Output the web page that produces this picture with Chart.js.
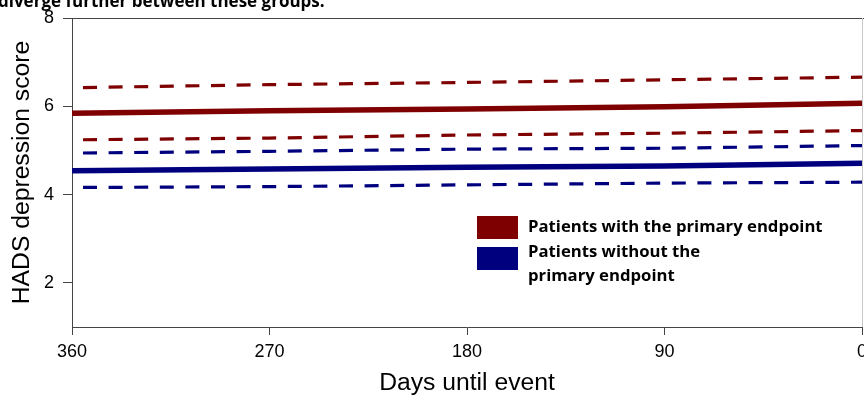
<!DOCTYPE html>
<html>
<head>
<meta charset="utf-8">
<script src="https://cdn.jsdelivr.net/npm/chart.js@4/dist/chart.umd.min.js"></script>
<style>
  html, body { margin: 0; padding: 0; background: #ffffff; }
  #wrap { width: 864px; height: 397px; position: relative; overflow: hidden; }
</style>
</head>
<body>
<div id="wrap"><canvas id="chart" width="864" height="397"></canvas></div>
<script>
// Days before the event, and HADS depression score trajectories (mean with 95% band)
const days = [360, 270, 180, 90, 0];
const withEndpointMean  = [5.84, 5.90, 5.94, 5.99, 6.07];
const withEndpointUpper = [6.42, 6.49, 6.54, 6.60, 6.66];
const withEndpointLower = [5.24, 5.28, 5.35, 5.39, 5.45];
const withoutEndpointMean  = [4.54, 4.58, 4.62, 4.65, 4.71];
const withoutEndpointUpper = [4.94, 4.98, 5.03, 5.05, 5.11];
const withoutEndpointLower = [4.16, 4.18, 4.22, 4.26, 4.28];

const xTicks = [360, 270, 180, 90, 0];
const yTicks = [2, 4, 6, 8];

const legendLines = [
  ['Patients with the primary endpoint'],
  ['Patients without the', 'primary endpoint']
];
const caption = 'diverge further between these groups.';

const RED = '#7f0000';
const BLUE = '#00007f';
const AXIS_FONT = 'Arial, "Liberation Sans", sans-serif';
const NOTE_FONT = '"Open Sans", Lato, sans-serif';

function pts(values) {
  return days.map((d, i) => ({ x: d, y: values[i] }));
}

function solid(label, values, color) {
  return {
    label, data: pts(values), borderColor: color, backgroundColor: color,
    borderWidth: 5.5, pointRadius: 0, tension: 0, borderCapStyle: 'butt'
  };
}
function dashed(label, values, color) {
  return {
    label, data: pts(values), borderColor: color, backgroundColor: color,
    borderWidth: 3.2, pointRadius: 0, tension: 0,
    borderDash: [14, 11.6], borderDashOffset: 14.6, borderCapStyle: 'butt'
  };
}

// Frame lines on top and right of the plotting region, the caption strip and the legend box
const decorations = {
  id: 'decorations',
  beforeDraw(chart) {
    const ctx = chart.ctx;
    ctx.save();
    ctx.fillStyle = '#ffffff';
    ctx.fillRect(0, 0, chart.width, chart.height);
    ctx.restore();
  },
  afterDatasetsDraw(chart) {
    const ctx = chart.ctx;
    const a = chart.chartArea;
    ctx.save();
    // top frame line
    ctx.strokeStyle = '#444444';
    ctx.lineWidth = 1;
    ctx.beginPath();
    ctx.moveTo(a.left, Math.round(a.top) + 0.5);
    ctx.lineTo(chart.width, Math.round(a.top) + 0.5);
    ctx.stroke();
    // light right edge
    ctx.strokeStyle = '#c8c8c8';
    ctx.beginPath();
    ctx.moveTo(Math.round(a.right) + 0.5, a.top);
    ctx.lineTo(Math.round(a.right) + 0.5, a.bottom);
    ctx.stroke();

    // caption line above the plot
    ctx.fillStyle = '#000000';
    ctx.font = 'bold 17px ' + NOTE_FONT;
    ctx.textBaseline = 'alphabetic';
    ctx.textAlign = 'left';
    ctx.fillText(caption, -2, 7);

    // legend
    const colors = [RED, BLUE];
    const swX = 477, swW = 41, swH = 23;
    const swY = [216, 247];
    const baselines = [[232], [257, 281]];
    ctx.font = 'bold 16.7px ' + NOTE_FONT;
    for (let i = 0; i < legendLines.length; i++) {
      ctx.fillStyle = colors[i];
      ctx.fillRect(swX, swY[i], swW, swH);
      ctx.fillStyle = '#000000';
      legendLines[i].forEach((t, j) => ctx.fillText(t, 528, baselines[i][j]));
    }
    ctx.restore();
  }
};

new Chart(document.getElementById('chart'), {
  type: 'line',
  data: {
    datasets: [
      dashed('Upper bound, with endpoint', withEndpointUpper, RED),
      solid('Patients with the primary endpoint', withEndpointMean, RED),
      dashed('Lower bound, with endpoint', withEndpointLower, RED),
      dashed('Upper bound, without endpoint', withoutEndpointUpper, BLUE),
      solid('Patients without the primary endpoint', withoutEndpointMean, BLUE),
      dashed('Lower bound, without endpoint', withoutEndpointLower, BLUE)
    ]
  },
  plugins: [decorations],
  options: {
    responsive: false,
    animation: false,
    devicePixelRatio: 1,
    layout: { padding: { left: 0, right: 2, top: 18, bottom: 0 } },
    plugins: { legend: { display: false }, tooltip: { enabled: false } },
    scales: {
      x: {
        type: 'linear',
        reverse: true,
        min: 0,
        max: 360,
        afterBuildTicks(scale) { scale.ticks = xTicks.map(v => ({ value: v })); },
        afterFit(scale) { scale.height = 70; scale.paddingLeft = 0; scale.paddingRight = 0; },
        ticks: {
          autoSkip: false, maxRotation: 0, padding: 6,
          color: '#000000',
          font: { family: AXIS_FONT, size: 18 }
        },
        grid: { drawOnChartArea: false, drawTicks: true, tickLength: 8, color: '#444444' },
        border: { display: true, color: '#444444', width: 1 },
        title: {
          display: true, text: 'Days until event', color: '#000000',
          font: { family: AXIS_FONT, size: 24.7, lineHeight: 1 },
          padding: { top: 0, bottom: 1 }
        }
      },
      y: {
        type: 'linear',
        min: 1,
        max: 8,
        afterBuildTicks(scale) { scale.ticks = yTicks.map(v => ({ value: v })); },
        afterFit(scale) { scale.width = 72; scale.paddingTop = 0; scale.paddingBottom = 0; },
        ticks: {
          padding: 9, color: '#000000',
          font: { family: AXIS_FONT, size: 18 }
        },
        grid: { drawOnChartArea: false, drawTicks: true, tickLength: 9, color: '#444444' },
        border: { display: true, color: '#444444', width: 1 },
        title: {
          display: true, text: 'HADS depression score', color: '#000000',
          font: { family: AXIS_FONT, size: 24.7, lineHeight: 1 },
          padding: { top: 9.5, bottom: 0 }
        }
      }
    }
  }
});
</script>
</body>
</html>
